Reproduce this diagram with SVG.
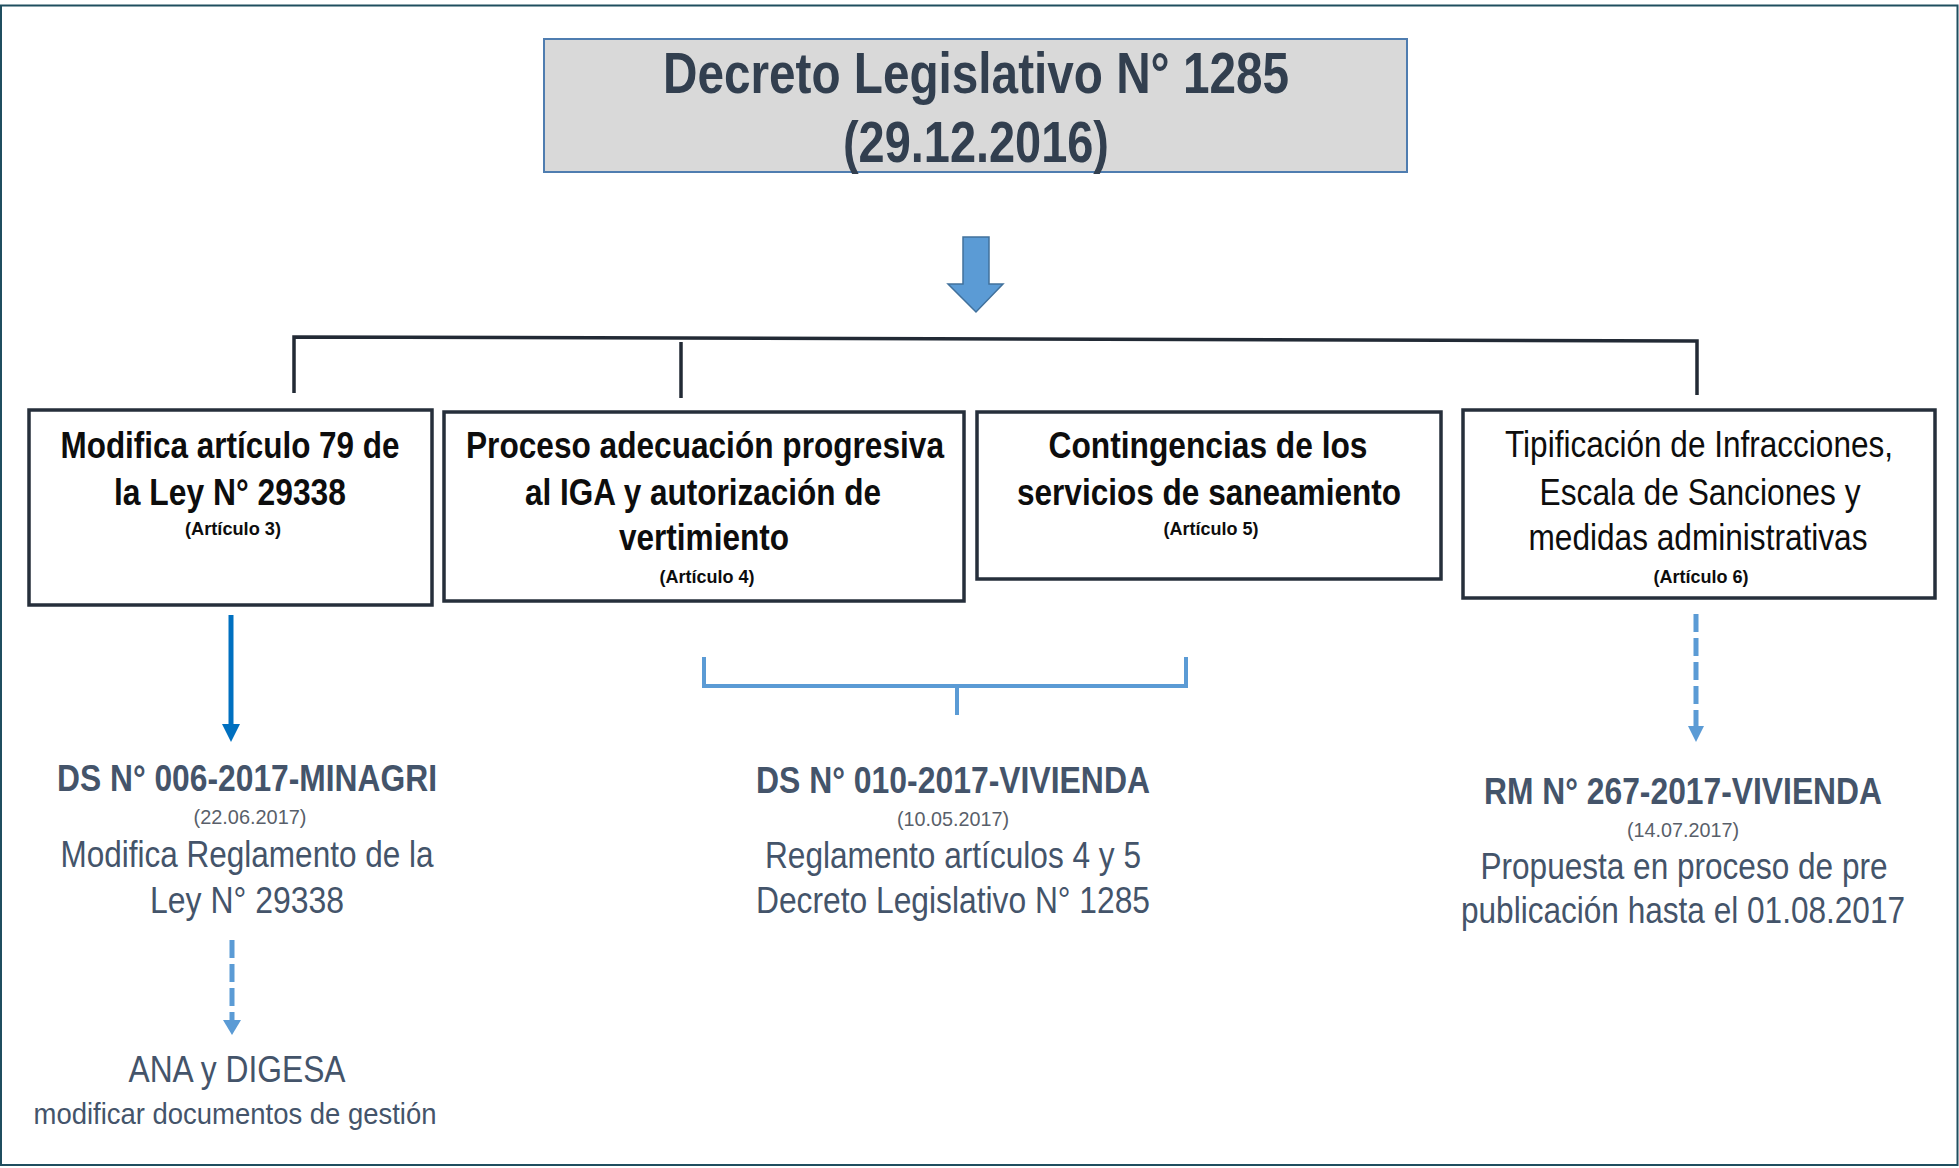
<svg xmlns="http://www.w3.org/2000/svg" width="1959" height="1168" viewBox="0 0 1959 1168">
<style>
  text { font-family: "Liberation Sans", Arial, sans-serif; text-anchor: middle; }
  .title { font-size: 57px; font-weight: bold; fill: #323f4f; }
  .bt { font-size: 37px; font-weight: bold; fill: #0d0d0d; }
  .br { font-size: 37px; fill: #0d0d0d; }
  .art { font-size: 18px; font-weight: bold; fill: #0d0d0d; }
  .lb { font-size: 37px; font-weight: bold; fill: #44546a; }
  .lr { font-size: 37px; fill: #44546a; }
  .ls { font-size: 30px; fill: #44546a; }
  .dt { font-size: 21px; fill: #595f6a; }
  .box { fill: #ffffff; stroke: #262f3b; stroke-width: 3.5; }
  .tree { fill: none; stroke: #222a35; stroke-width: 3.5; }
  .blue { fill: none; stroke: #5b9bd5; stroke-width: 4; }
</style>
<rect x="0" y="0" width="1959" height="1168" fill="#ffffff"/>
<rect x="1" y="5.5" width="1956.5" height="1159.5" fill="none" stroke="#1f4e5f" stroke-width="2"/>

<g id="title">
  <rect x="544" y="39" width="863" height="133" fill="#d9d9d9" stroke="#4f7db0" stroke-width="2"/>
  <text class="title" x="976" y="93" textLength="626" lengthAdjust="spacingAndGlyphs">Decreto Legislativo N° 1285</text>
  <text class="title" x="976" y="162" textLength="266" lengthAdjust="spacingAndGlyphs">(29.12.2016)</text>
</g>

<g id="connectors">
  <polygon points="963,237 989,237 989,284 1003,284 976,312 948,284 963,284" fill="#5b9bd5" stroke="#41719c" stroke-width="1.5"/>
  <path class="tree" d="M294,393 V337 L1697,341 V395"/>
  <path class="tree" d="M681,342 V398"/>
  <line x1="231" y1="615" x2="231" y2="727" stroke="#0070c0" stroke-width="5"/>
  <polygon points="222,724 240,724 231,742" fill="#0070c0"/>
  <line x1="232" y1="940" x2="232" y2="1022" stroke="#5b9bd5" stroke-width="5" stroke-dasharray="18 6"/>
  <polygon points="223,1020 241,1020 232,1035" fill="#5b9bd5"/>
  <line x1="1696" y1="614" x2="1696" y2="728" stroke="#5b9bd5" stroke-width="5" stroke-dasharray="18 6"/>
  <polygon points="1688,726 1704,726 1696,742" fill="#5b9bd5"/>
  <path class="blue" d="M704,657 V686 H1186 V657 M957,686 V715"/>
</g>

<g id="box1">
  <rect class="box" x="29" y="410" width="403" height="195"/>
  <text class="bt" x="230" y="458" textLength="339" lengthAdjust="spacingAndGlyphs">Modifica artículo 79 de</text>
  <text class="bt" x="230" y="505" textLength="232" lengthAdjust="spacingAndGlyphs">la Ley N° 29338</text>
  <text class="art" x="233" y="535" textLength="96" lengthAdjust="spacingAndGlyphs">(Artículo 3)</text>
</g>

<g id="box2">
  <rect class="box" x="444" y="412" width="520" height="189"/>
  <text class="bt" x="705" y="458" textLength="478" lengthAdjust="spacingAndGlyphs">Proceso adecuación progresiva</text>
  <text class="bt" x="703" y="505" textLength="356" lengthAdjust="spacingAndGlyphs">al IGA y autorización de</text>
  <text class="bt" x="704" y="550" textLength="170" lengthAdjust="spacingAndGlyphs">vertimiento</text>
  <text class="art" x="707" y="583" textLength="95" lengthAdjust="spacingAndGlyphs">(Artículo 4)</text>
</g>

<g id="box3">
  <rect class="box" x="977" y="412" width="464" height="167"/>
  <text class="bt" x="1208" y="458" textLength="319" lengthAdjust="spacingAndGlyphs">Contingencias de los</text>
  <text class="bt" x="1209" y="505" textLength="384" lengthAdjust="spacingAndGlyphs">servicios de saneamiento</text>
  <text class="art" x="1211" y="535" textLength="95" lengthAdjust="spacingAndGlyphs">(Artículo 5)</text>
</g>

<g id="box4">
  <rect class="box" x="1463" y="410" width="472" height="188"/>
  <text class="br" x="1699" y="457" textLength="388" lengthAdjust="spacingAndGlyphs">Tipificación de Infracciones,</text>
  <text class="br" x="1700" y="505" textLength="321" lengthAdjust="spacingAndGlyphs">Escala de Sanciones y</text>
  <text class="br" x="1698" y="550" textLength="339" lengthAdjust="spacingAndGlyphs">medidas administrativas</text>
  <text class="art" x="1701" y="583" textLength="95" lengthAdjust="spacingAndGlyphs">(Artículo 6)</text>
</g>

<g id="ds006">
  <text class="lb" x="247" y="791" textLength="380" lengthAdjust="spacingAndGlyphs">DS N° 006-2017-MINAGRI</text>
  <text class="dt" x="250" y="824" textLength="113" lengthAdjust="spacingAndGlyphs">(22.06.2017)</text>
  <text class="lr" x="247" y="867" textLength="373" lengthAdjust="spacingAndGlyphs">Modifica Reglamento de la</text>
  <text class="lr" x="247" y="913" textLength="194" lengthAdjust="spacingAndGlyphs">Ley N° 29338</text>
</g>

<g id="ana">
  <text class="lr" x="237" y="1082" textLength="217" lengthAdjust="spacingAndGlyphs">ANA y DIGESA</text>
  <text class="ls" x="235" y="1124" textLength="403" lengthAdjust="spacingAndGlyphs">modificar documentos de gestión</text>
</g>

<g id="ds010">
  <text class="lb" x="953" y="793" textLength="394" lengthAdjust="spacingAndGlyphs">DS N° 010-2017-VIVIENDA</text>
  <text class="dt" x="953" y="826" textLength="112" lengthAdjust="spacingAndGlyphs">(10.05.2017)</text>
  <text class="lr" x="953" y="868" textLength="376" lengthAdjust="spacingAndGlyphs">Reglamento artículos 4 y 5</text>
  <text class="lr" x="953" y="913" textLength="394" lengthAdjust="spacingAndGlyphs">Decreto Legislativo N° 1285</text>
</g>

<g id="rm267">
  <text class="lb" x="1683" y="804" textLength="398" lengthAdjust="spacingAndGlyphs">RM N° 267-2017-VIVIENDA</text>
  <text class="dt" x="1683" y="837" textLength="112" lengthAdjust="spacingAndGlyphs">(14.07.2017)</text>
  <text class="lr" x="1684" y="879" textLength="407" lengthAdjust="spacingAndGlyphs">Propuesta en proceso de pre</text>
  <text class="lr" x="1683" y="923" textLength="444" lengthAdjust="spacingAndGlyphs">publicación hasta el 01.08.2017</text>
</g>
</svg>
